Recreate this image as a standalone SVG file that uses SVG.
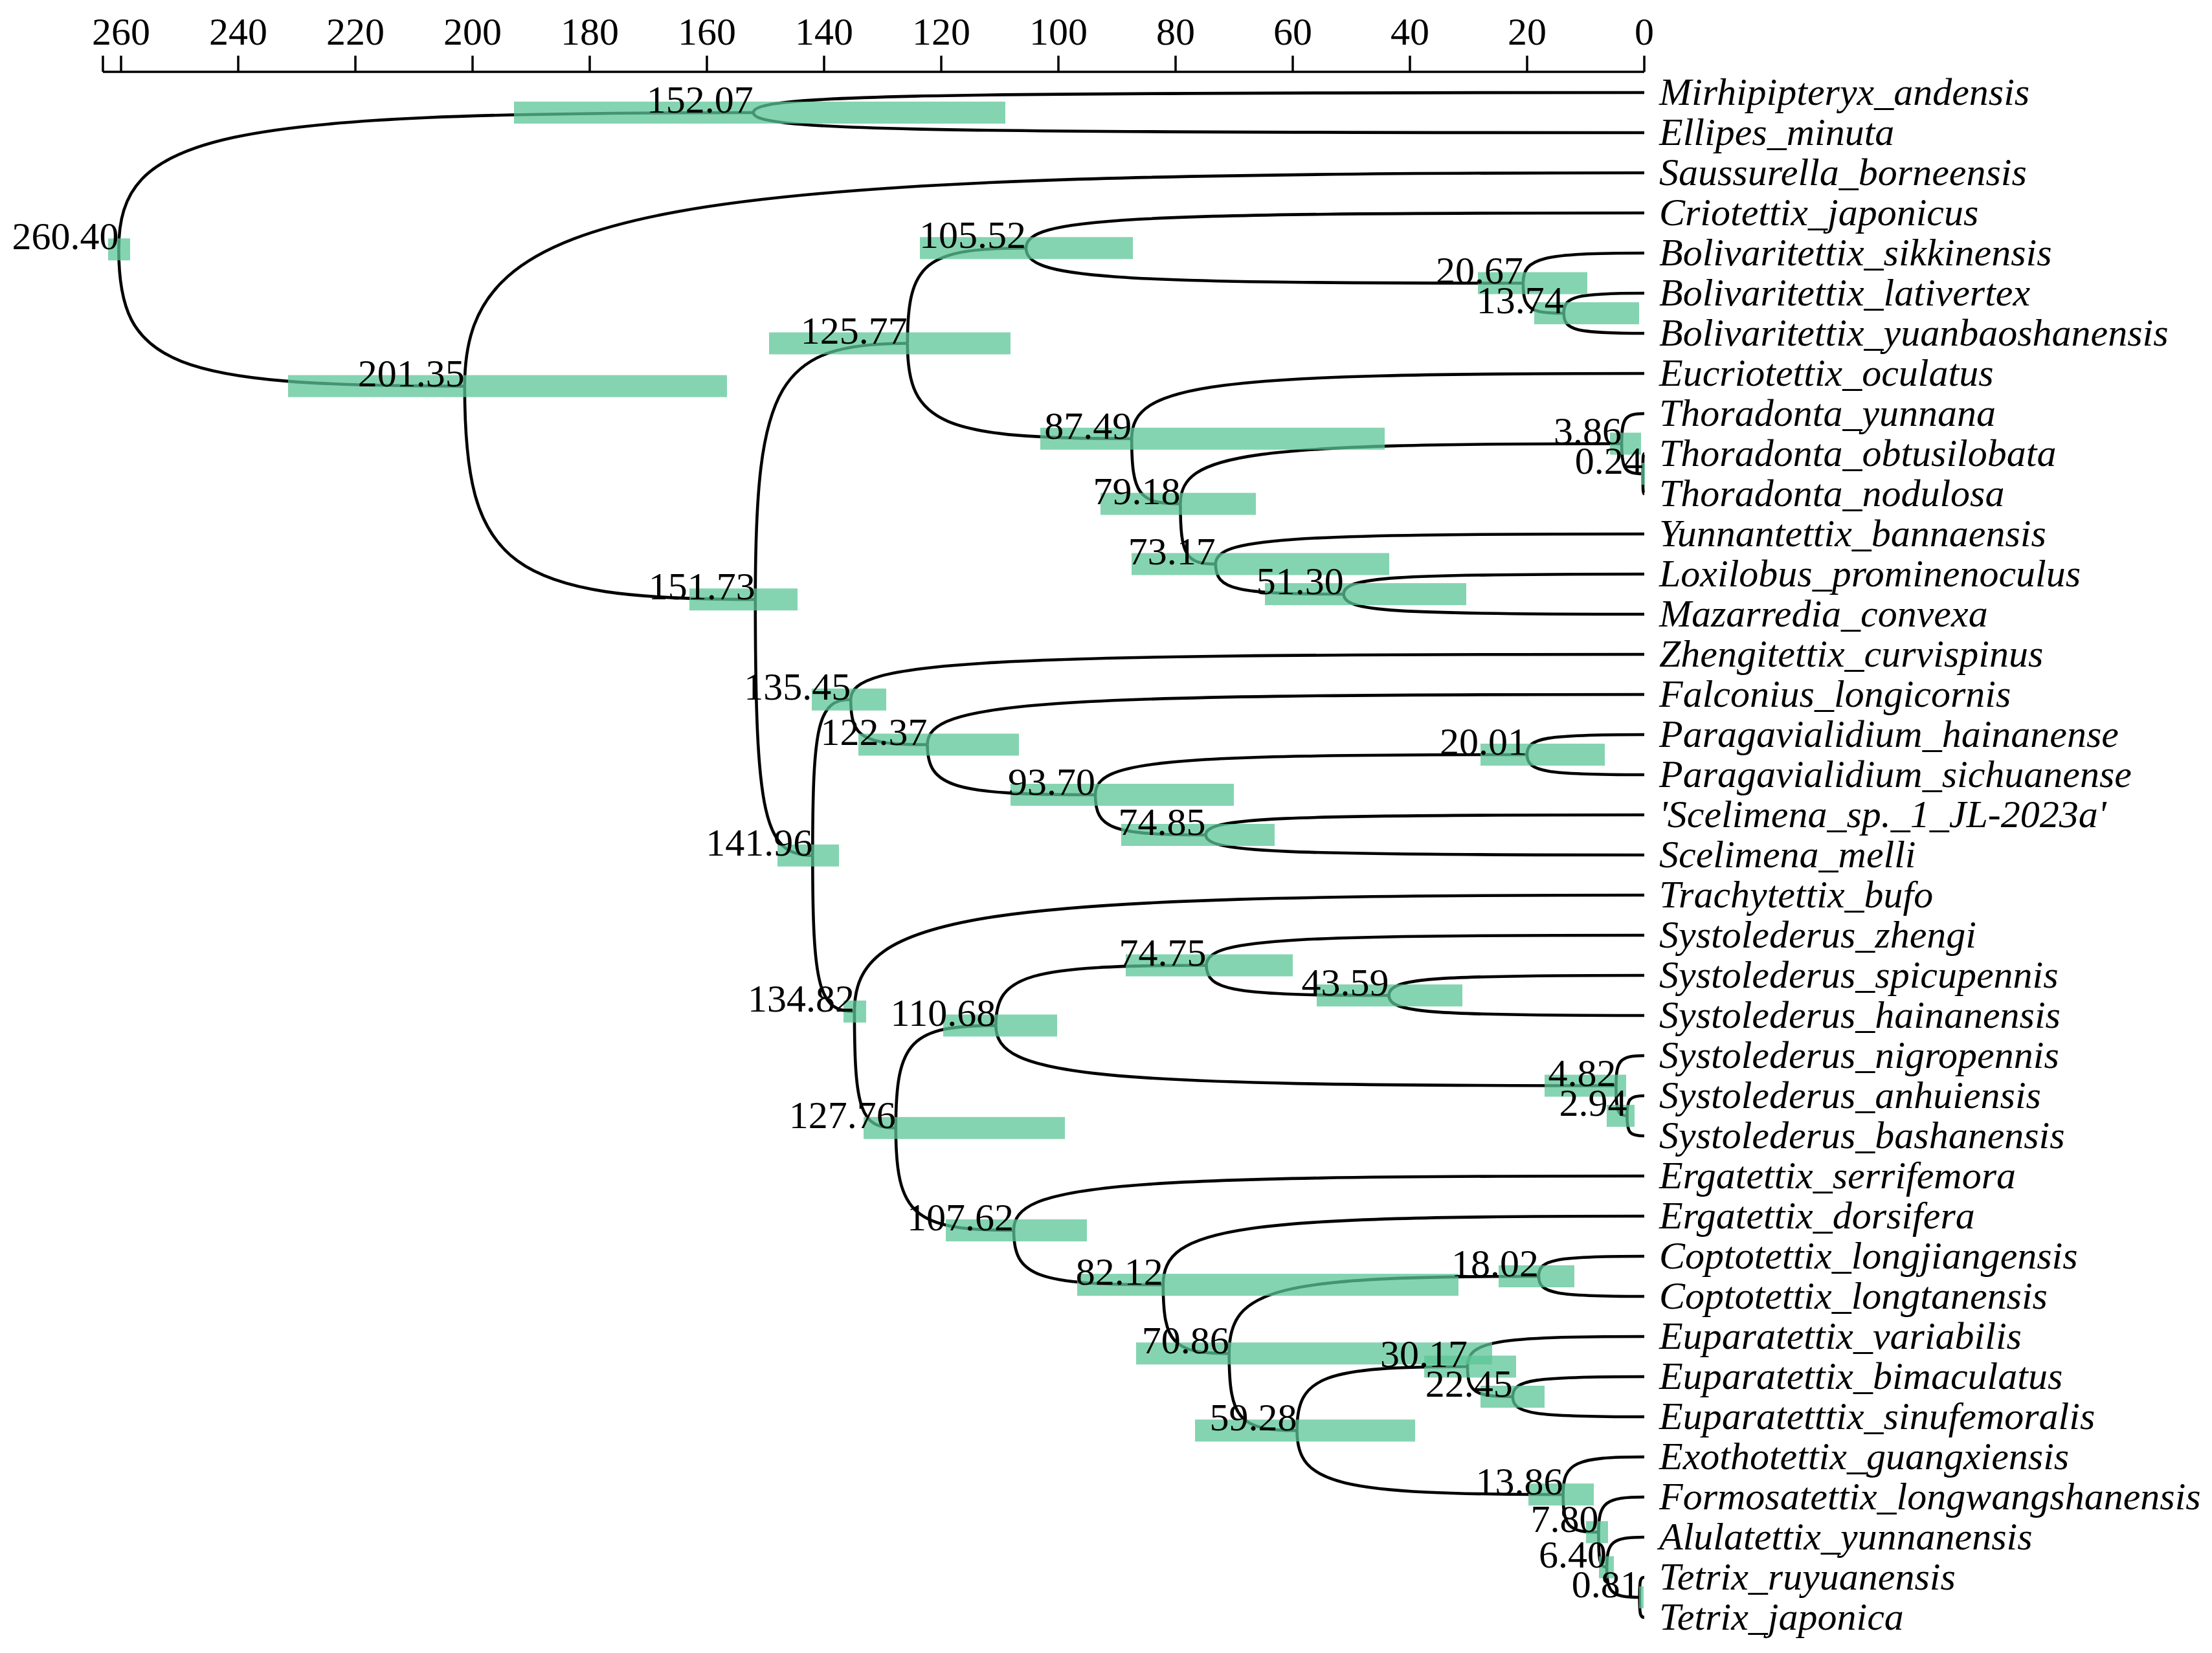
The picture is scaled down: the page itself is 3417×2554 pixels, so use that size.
<svg xmlns="http://www.w3.org/2000/svg" width="3417" height="2554" viewBox="0 0 3417 2554">
<style>
.br{fill:none;stroke:#000;stroke-width:4.6}
.bar{fill:#5cc697;fill-opacity:0.75}
.nl{font-family:"Liberation Serif","Times New Roman",serif;font-size:60px;text-anchor:end;fill:#000}
.tx{font-family:"Liberation Serif","Times New Roman",serif;font-size:60px;font-style:italic;fill:#000}
.tk{font-family:"Liberation Serif","Times New Roman",serif;font-size:60px;text-anchor:middle;fill:#000}
.ax{stroke:#000;stroke-width:3.5;fill:none}
</style>
<rect width="3417" height="2554" fill="#fff"/>
<g id="axis">
<path class="ax" d="M159 111H2540M159 86V111M187 86V111M368 86V111M549 86V111M730 86V111M911 86V111M1092 86V111M1273 86V111M1454 86V111M1635 86V111M1816 86V111M1997 86V111M2178 86V111M2359 86V111M2540 86V111"/>
<text class="tk" x="187" y="69">260</text><text class="tk" x="368" y="69">240</text><text class="tk" x="549" y="69">220</text><text class="tk" x="730" y="69">200</text><text class="tk" x="911" y="69">180</text><text class="tk" x="1092" y="69">160</text><text class="tk" x="1273" y="69">140</text><text class="tk" x="1454" y="69">120</text><text class="tk" x="1635" y="69">100</text><text class="tk" x="1816" y="69">80</text><text class="tk" x="1997" y="69">60</text><text class="tk" x="2178" y="69">40</text><text class="tk" x="2359" y="69">20</text><text class="tk" x="2540" y="69">0</text>
</g>
<g id="connectors">
<path class="br" d="M183.4 385.3 C183.4 205.7 330.5 174 1163.8 174"/>
<path class="br" d="M183.4 385.3 C183.4 564.9 263.6 596.6 717.8 596.6"/>
<path class="br" d="M1163.8 174 C1163.8 147.7 1370.2 143 2540 143"/>
<path class="br" d="M1163.8 174 C1163.8 200.4 1370.2 205 2540 205"/>
<path class="br" d="M717.8 596.6 C717.8 316.4 991.1 267 2540 267"/>
<path class="br" d="M717.8 596.6 C717.8 876.8 785.1 926.2 1166.8 926.2"/>
<path class="br" d="M1166.8 926.2 C1166.8 589.8 1202.1 530.5 1401.8 530.5"/>
<path class="br" d="M1166.8 926.2 C1166.8 1262.4 1180.1 1321.8 1255.3 1321.8"/>
<path class="br" d="M1401.8 530.5 C1401.8 405.4 1429.3 383.3 1585 383.3"/>
<path class="br" d="M1401.8 530.5 C1401.8 655.7 1453.7 677.8 1748.2 677.8"/>
<path class="br" d="M1585 383.3 C1585 337.1 1728.3 329 2540 329"/>
<path class="br" d="M1585 383.3 C1585 429.4 1700.2 437.5 2352.9 437.5"/>
<path class="br" d="M2352.9 437.5 C2352.9 398 2381 391 2540 391"/>
<path class="br" d="M2352.9 437.5 C2352.9 477 2362.4 484 2415.7 484"/>
<path class="br" d="M2415.7 484 C2415.7 457.7 2434.3 453 2540 453"/>
<path class="br" d="M2415.7 484 C2415.7 510.4 2434.3 515 2540 515"/>
<path class="br" d="M1748.2 677.8 C1748.2 592.1 1867 577 2540 577"/>
<path class="br" d="M1748.2 677.8 C1748.2 763.4 1759.5 778.5 1823.4 778.5"/>
<path class="br" d="M1823.4 778.5 C1823.4 699.5 1925.7 685.5 2505.1 685.5"/>
<path class="br" d="M1823.4 778.5 C1823.4 857.6 1831.6 871.5 1877.8 871.5"/>
<path class="br" d="M2505.1 685.5 C2505.1 646 2510.3 639 2540 639"/>
<path class="br" d="M2505.1 685.5 C2505.1 725 2510 732 2537.8 732"/>
<path class="br" d="M2537.8 732 C2537.8 705.7 2538.1 701 2540 701"/>
<path class="br" d="M2537.8 732 C2537.8 758.4 2538.1 763 2540 763"/>
<path class="br" d="M1877.8 871.5 C1877.8 832 1977.1 825 2540 825"/>
<path class="br" d="M1877.8 871.5 C1877.8 911 1907.5 918 2075.7 918"/>
<path class="br" d="M2075.7 918 C2075.7 891.7 2145.3 887 2540 887"/>
<path class="br" d="M2075.7 918 C2075.7 944.4 2145.3 949 2540 949"/>
<path class="br" d="M1255.3 1321.8 C1255.3 1116.9 1264.1 1080.8 1314.2 1080.8"/>
<path class="br" d="M1255.3 1321.8 C1255.3 1526.8 1265 1562.9 1319.9 1562.9"/>
<path class="br" d="M1314.2 1080.8 C1314.2 1021.5 1498.1 1011 2540 1011"/>
<path class="br" d="M1314.2 1080.8 C1314.2 1140 1332 1150.5 1432.6 1150.5"/>
<path class="br" d="M1432.6 1150.5 C1432.6 1084.6 1598.7 1073 2540 1073"/>
<path class="br" d="M1432.6 1150.5 C1432.6 1216.4 1471.5 1228 1692 1228"/>
<path class="br" d="M1692 1228 C1692 1175.3 1792 1166 2358.9 1166"/>
<path class="br" d="M1692 1228 C1692 1280.7 1717.6 1290 1862.6 1290"/>
<path class="br" d="M2358.9 1166 C2358.9 1139.7 2386.1 1135 2540 1135"/>
<path class="br" d="M2358.9 1166 C2358.9 1192.4 2386.1 1197 2540 1197"/>
<path class="br" d="M1862.6 1290 C1862.6 1263.7 1964.2 1259 2540 1259"/>
<path class="br" d="M1862.6 1290 C1862.6 1316.4 1964.2 1321 2540 1321"/>
<path class="br" d="M1319.9 1562.9 C1319.9 1410 1502.9 1383 2540 1383"/>
<path class="br" d="M1319.9 1562.9 C1319.9 1715.8 1329.5 1742.8 1383.8 1742.8"/>
<path class="br" d="M1383.8 1742.8 C1383.8 1608.2 1406.9 1584.5 1538.3 1584.5"/>
<path class="br" d="M1383.8 1742.8 C1383.8 1877.3 1411.1 1901 1566 1901"/>
<path class="br" d="M1538.3 1584.5 C1538.3 1505.5 1587.1 1491.5 1863.5 1491.5"/>
<path class="br" d="M1538.3 1584.5 C1538.3 1663.6 1682.1 1677.5 2496.4 1677.5"/>
<path class="br" d="M1863.5 1491.5 C1863.5 1452 1965 1445 2540 1445"/>
<path class="br" d="M1863.5 1491.5 C1863.5 1531 1905.8 1538 2145.5 1538"/>
<path class="br" d="M2145.5 1538 C2145.5 1511.7 2204.7 1507 2540 1507"/>
<path class="br" d="M2145.5 1538 C2145.5 1564.4 2204.7 1569 2540 1569"/>
<path class="br" d="M2496.4 1677.5 C2496.4 1638 2502.9 1631 2540 1631"/>
<path class="br" d="M2496.4 1677.5 C2496.4 1717 2498.9 1724 2513.4 1724"/>
<path class="br" d="M2513.4 1724 C2513.4 1697.7 2517.4 1693 2540 1693"/>
<path class="br" d="M2513.4 1724 C2513.4 1750.4 2517.4 1755 2540 1755"/>
<path class="br" d="M1566 1901 C1566 1829.6 1712.1 1817 2540 1817"/>
<path class="br" d="M1566 1901 C1566 1972.5 1600.6 1985.1 1796.8 1985.1"/>
<path class="br" d="M1796.8 1985.1 C1796.8 1894.9 1908.3 1879 2540 1879"/>
<path class="br" d="M1796.8 1985.1 C1796.8 2075.3 1812.1 2091.2 1898.7 2091.2"/>
<path class="br" d="M1898.7 2091.2 C1898.7 1989.9 1970.4 1972 2376.9 1972"/>
<path class="br" d="M1898.7 2091.2 C1898.7 2192.5 1914.4 2210.3 2003.5 2210.3"/>
<path class="br" d="M2376.9 1972 C2376.9 1945.7 2401.4 1941 2540 1941"/>
<path class="br" d="M2376.9 1972 C2376.9 1998.4 2401.4 2003 2540 2003"/>
<path class="br" d="M2003.5 2210.3 C2003.5 2126.3 2043.1 2111.5 2267 2111.5"/>
<path class="br" d="M2003.5 2210.3 C2003.5 2294.2 2065.2 2309.1 2414.6 2309.1"/>
<path class="br" d="M2267 2111.5 C2267 2072 2308 2065 2540 2065"/>
<path class="br" d="M2267 2111.5 C2267 2151 2277.5 2158 2336.8 2158"/>
<path class="br" d="M2336.8 2158 C2336.8 2131.7 2367.3 2127 2540 2127"/>
<path class="br" d="M2336.8 2158 C2336.8 2184.4 2367.3 2189 2540 2189"/>
<path class="br" d="M2414.6 2309.1 C2414.6 2259.7 2433.4 2251 2540 2251"/>
<path class="br" d="M2414.6 2309.1 C2414.6 2358.6 2422.8 2367.3 2469.4 2367.3"/>
<path class="br" d="M2469.4 2367.3 C2469.4 2321.1 2480 2313 2540 2313"/>
<path class="br" d="M2469.4 2367.3 C2469.4 2413.4 2471.3 2421.5 2482.1 2421.5"/>
<path class="br" d="M2482.1 2421.5 C2482.1 2382 2490.8 2375 2540 2375"/>
<path class="br" d="M2482.1 2421.5 C2482.1 2461 2489.7 2468 2532.7 2468"/>
<path class="br" d="M2532.7 2468 C2532.7 2441.7 2533.8 2437 2540 2437"/>
<path class="br" d="M2532.7 2468 C2532.7 2494.4 2533.8 2499 2540 2499"/>
</g>
<g id="internal-nodes">
<g id="node-260.40"><rect class="bar" x="167" y="368.3" width="34" height="34"/><text class="nl" x="183.4" y="385.3">260.40</text></g>
<g id="node-152.07"><rect class="bar" x="794" y="157" width="759" height="34"/><text class="nl" x="1163.8" y="174">152.07</text></g>
<g id="node-201.35"><rect class="bar" x="445" y="579.6" width="678" height="34"/><text class="nl" x="717.8" y="596.6">201.35</text></g>
<g id="node-151.73"><rect class="bar" x="1065" y="909.2" width="167" height="34"/><text class="nl" x="1166.8" y="926.2">151.73</text></g>
<g id="node-125.77"><rect class="bar" x="1188" y="513.5" width="373" height="34"/><text class="nl" x="1401.8" y="530.5">125.77</text></g>
<g id="node-105.52"><rect class="bar" x="1421" y="366.3" width="329" height="34"/><text class="nl" x="1585" y="383.3">105.52</text></g>
<g id="node-20.67"><rect class="bar" x="2283" y="420.5" width="169" height="34"/><text class="nl" x="2352.9" y="437.5">20.67</text></g>
<g id="node-13.74"><rect class="bar" x="2370" y="467" width="162" height="34"/><text class="nl" x="2415.7" y="484">13.74</text></g>
<g id="node-87.49"><rect class="bar" x="1607" y="660.8" width="532" height="34"/><text class="nl" x="1748.2" y="677.8">87.49</text></g>
<g id="node-79.18"><rect class="bar" x="1700" y="761.5" width="240" height="34"/><text class="nl" x="1823.4" y="778.5">79.18</text></g>
<g id="node-3.86"><rect class="bar" x="2487" y="668.5" width="48" height="34"/><text class="nl" x="2505.1" y="685.5">3.86</text></g>
<g id="node-0.24"><rect class="bar" x="2535" y="715" width="6" height="34"/><text class="nl" x="2537.8" y="732">0.24</text></g>
<g id="node-73.17"><rect class="bar" x="1748" y="854.5" width="398" height="34"/><text class="nl" x="1877.8" y="871.5">73.17</text></g>
<g id="node-51.30"><rect class="bar" x="1954" y="901" width="311" height="34"/><text class="nl" x="2075.7" y="918">51.30</text></g>
<g id="node-141.96"><rect class="bar" x="1201" y="1304.8" width="95" height="34"/><text class="nl" x="1255.3" y="1321.8">141.96</text></g>
<g id="node-135.45"><rect class="bar" x="1254" y="1063.8" width="115" height="34"/><text class="nl" x="1314.2" y="1080.8">135.45</text></g>
<g id="node-122.37"><rect class="bar" x="1326" y="1133.5" width="248" height="34"/><text class="nl" x="1432.6" y="1150.5">122.37</text></g>
<g id="node-93.70"><rect class="bar" x="1561" y="1211" width="345" height="34"/><text class="nl" x="1692" y="1228">93.70</text></g>
<g id="node-20.01"><rect class="bar" x="2287" y="1149" width="192" height="34"/><text class="nl" x="2358.9" y="1166">20.01</text></g>
<g id="node-74.85"><rect class="bar" x="1732" y="1273" width="237" height="34"/><text class="nl" x="1862.6" y="1290">74.85</text></g>
<g id="node-134.82"><rect class="bar" x="1303" y="1545.9" width="35" height="34"/><text class="nl" x="1319.9" y="1562.9">134.82</text></g>
<g id="node-127.76"><rect class="bar" x="1334" y="1725.8" width="311" height="34"/><text class="nl" x="1383.8" y="1742.8">127.76</text></g>
<g id="node-110.68"><rect class="bar" x="1457" y="1567.5" width="176" height="34"/><text class="nl" x="1538.3" y="1584.5">110.68</text></g>
<g id="node-74.75"><rect class="bar" x="1739" y="1474.5" width="258" height="34"/><text class="nl" x="1863.5" y="1491.5">74.75</text></g>
<g id="node-43.59"><rect class="bar" x="2034" y="1521" width="225" height="34"/><text class="nl" x="2145.5" y="1538">43.59</text></g>
<g id="node-4.82"><rect class="bar" x="2386" y="1660.5" width="126" height="34"/><text class="nl" x="2496.4" y="1677.5">4.82</text></g>
<g id="node-2.94"><rect class="bar" x="2482" y="1707" width="43" height="34"/><text class="nl" x="2513.4" y="1724">2.94</text></g>
<g id="node-107.62"><rect class="bar" x="1461" y="1884" width="218" height="34"/><text class="nl" x="1566" y="1901">107.62</text></g>
<g id="node-82.12"><rect class="bar" x="1664" y="1968.1" width="589" height="34"/><text class="nl" x="1796.8" y="1985.1">82.12</text></g>
<g id="node-70.86"><rect class="bar" x="1755" y="2074.2" width="550" height="34"/><text class="nl" x="1898.7" y="2091.2">70.86</text></g>
<g id="node-18.02"><rect class="bar" x="2315" y="1955" width="117" height="34"/><text class="nl" x="2376.9" y="1972">18.02</text></g>
<g id="node-59.28"><rect class="bar" x="1846" y="2193.3" width="340" height="34"/><text class="nl" x="2003.5" y="2210.3">59.28</text></g>
<g id="node-30.17"><rect class="bar" x="2200" y="2094.5" width="142" height="34"/><text class="nl" x="2267" y="2111.5">30.17</text></g>
<g id="node-22.45"><rect class="bar" x="2287" y="2141" width="99" height="34"/><text class="nl" x="2336.8" y="2158">22.45</text></g>
<g id="node-13.86"><rect class="bar" x="2361" y="2292.1" width="101" height="34"/><text class="nl" x="2414.6" y="2309.1">13.86</text></g>
<g id="node-7.80"><rect class="bar" x="2450" y="2350.3" width="34" height="34"/><text class="nl" x="2469.4" y="2367.3">7.80</text></g>
<g id="node-6.40"><rect class="bar" x="2470" y="2404.5" width="23" height="34"/><text class="nl" x="2482.1" y="2421.5">6.40</text></g>
<g id="node-0.81"><rect class="bar" x="2532" y="2451" width="7" height="34"/><text class="nl" x="2532.7" y="2468">0.81</text></g>
</g>
<g id="taxa">
<g id="tip-01"><text class="tx" x="2563" y="162">Mirhipipteryx_andensis</text></g>
<g id="tip-02"><text class="tx" x="2563" y="224">Ellipes_minuta</text></g>
<g id="tip-03"><text class="tx" x="2563" y="286">Saussurella_borneensis</text></g>
<g id="tip-04"><text class="tx" x="2563" y="348">Criotettix_japonicus</text></g>
<g id="tip-05"><text class="tx" x="2563" y="410">Bolivaritettix_sikkinensis</text></g>
<g id="tip-06"><text class="tx" x="2563" y="472">Bolivaritettix_lativertex</text></g>
<g id="tip-07"><text class="tx" x="2563" y="534">Bolivaritettix_yuanbaoshanensis</text></g>
<g id="tip-08"><text class="tx" x="2563" y="596">Eucriotettix_oculatus</text></g>
<g id="tip-09"><text class="tx" x="2563" y="658">Thoradonta_yunnana</text></g>
<g id="tip-10"><text class="tx" x="2563" y="720">Thoradonta_obtusilobata</text></g>
<g id="tip-11"><text class="tx" x="2563" y="782">Thoradonta_nodulosa</text></g>
<g id="tip-12"><text class="tx" x="2563" y="844">Yunnantettix_bannaensis</text></g>
<g id="tip-13"><text class="tx" x="2563" y="906">Loxilobus_prominenoculus</text></g>
<g id="tip-14"><text class="tx" x="2563" y="968">Mazarredia_convexa</text></g>
<g id="tip-15"><text class="tx" x="2563" y="1030">Zhengitettix_curvispinus</text></g>
<g id="tip-16"><text class="tx" x="2563" y="1092">Falconius_longicornis</text></g>
<g id="tip-17"><text class="tx" x="2563" y="1154">Paragavialidium_hainanense</text></g>
<g id="tip-18"><text class="tx" x="2563" y="1216">Paragavialidium_sichuanense</text></g>
<g id="tip-19"><text class="tx" x="2563" y="1278">'Scelimena_sp._1_JL-2023a'</text></g>
<g id="tip-20"><text class="tx" x="2563" y="1340">Scelimena_melli</text></g>
<g id="tip-21"><text class="tx" x="2563" y="1402">Trachytettix_bufo</text></g>
<g id="tip-22"><text class="tx" x="2563" y="1464">Systolederus_zhengi</text></g>
<g id="tip-23"><text class="tx" x="2563" y="1526">Systolederus_spicupennis</text></g>
<g id="tip-24"><text class="tx" x="2563" y="1588">Systolederus_hainanensis</text></g>
<g id="tip-25"><text class="tx" x="2563" y="1650">Systolederus_nigropennis</text></g>
<g id="tip-26"><text class="tx" x="2563" y="1712">Systolederus_anhuiensis</text></g>
<g id="tip-27"><text class="tx" x="2563" y="1774">Systolederus_bashanensis</text></g>
<g id="tip-28"><text class="tx" x="2563" y="1836">Ergatettix_serrifemora</text></g>
<g id="tip-29"><text class="tx" x="2563" y="1898">Ergatettix_dorsifera</text></g>
<g id="tip-30"><text class="tx" x="2563" y="1960">Coptotettix_longjiangensis</text></g>
<g id="tip-31"><text class="tx" x="2563" y="2022">Coptotettix_longtanensis</text></g>
<g id="tip-32"><text class="tx" x="2563" y="2084">Euparatettix_variabilis</text></g>
<g id="tip-33"><text class="tx" x="2563" y="2146">Euparatettix_bimaculatus</text></g>
<g id="tip-34"><text class="tx" x="2563" y="2208">Euparatetttix_sinufemoralis</text></g>
<g id="tip-35"><text class="tx" x="2563" y="2270">Exothotettix_guangxiensis</text></g>
<g id="tip-36"><text class="tx" x="2563" y="2332">Formosatettix_longwangshanensis</text></g>
<g id="tip-37"><text class="tx" x="2563" y="2394">Alulatettix_yunnanensis</text></g>
<g id="tip-38"><text class="tx" x="2563" y="2456">Tetrix_ruyuanensis</text></g>
<g id="tip-39"><text class="tx" x="2563" y="2518">Tetrix_japonica</text></g>
</g>
</svg>
